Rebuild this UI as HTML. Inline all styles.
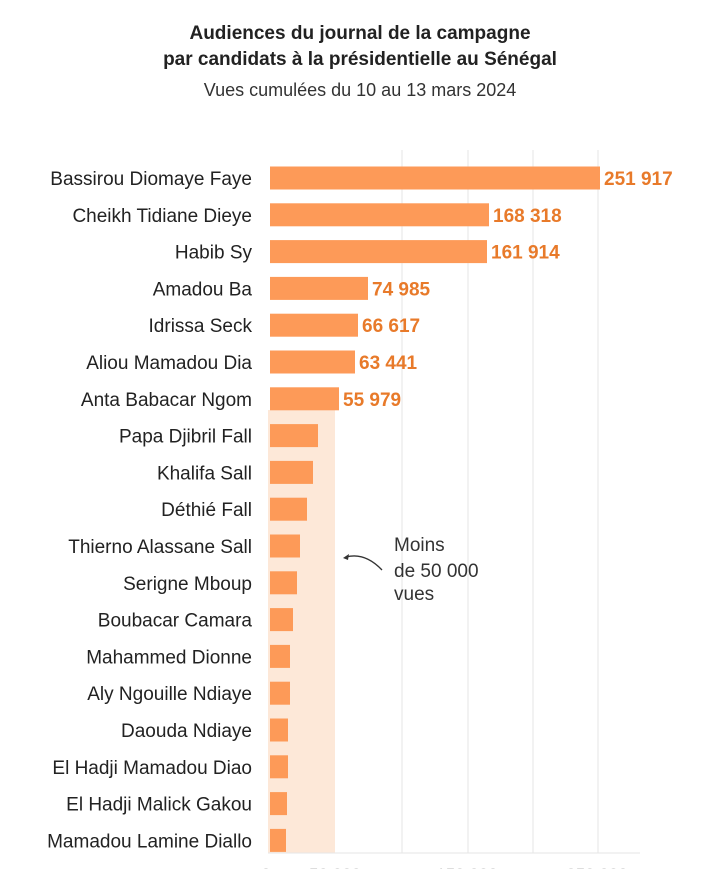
<!DOCTYPE html>
<html><head><meta charset="utf-8"><style>
body{margin:0;background:#fff;width:720px;height:869px;overflow:hidden;position:relative;font-family:"Liberation Sans Narrow","Liberation Sans",sans-serif;color:#222}
.t{position:absolute;left:0;width:720px;text-align:center}
</style></head><body>
<div class="t" style="top:21px;font-size:19px;font-weight:bold;line-height:26px">Audiences du journal de la campagne<br>par candidats à la présidentielle au Sénégal</div>
<div class="t" style="top:80px;font-size:18px;color:#333">Vues cumulées du 10 au 13 mars 2024</div>
<svg width="720" height="869" style="position:absolute;left:0;top:0" font-family="Liberation Sans Narrow, Liberation Sans, sans-serif">
<rect x="268" y="410" width="67" height="443" fill="#fde8d8"/>
<g stroke="#e6e6e6" stroke-width="1">
<line x1="402" y1="150" x2="402" y2="853"/><line x1="468" y1="150" x2="468" y2="853"/><line x1="533" y1="150" x2="533" y2="853"/><line x1="598" y1="150" x2="598" y2="853"/>
<line x1="268" y1="853" x2="640" y2="853"/>
</g>
<g id="bars"></g>
<g font-size="17" fill="#bbb" text-anchor="middle">
<text x="266" y="880">0</text><text x="335" y="880">50 000</text><text x="467" y="880">150 000</text><text x="597" y="880">250 000</text>
</g>
<g font-size="19" fill="#333"><text x="394" y="551">Moins</text><text x="394" y="577">de 50 000</text><text x="394" y="600">vues</text></g>
<path d="M382 570 Q365 552 346 557" fill="none" stroke="#333" stroke-width="1.3"/>
<path d="M343 558 l6 -4 l-1 6 z" fill="#333"/>
</svg>
<script>
var d=[["Bassirou Diomaye Faye",600,"251 917"],["Cheikh Tidiane Dieye",489,"168 318"],["Habib Sy",487,"161 914"],["Amadou Ba",368,"74 985"],["Idrissa Seck",358,"66 617"],["Aliou Mamadou Dia",355,"63 441"],["Anta Babacar Ngom",339,"55 979"],["Papa Djibril Fall",318],["Khalifa Sall",313],["Déthié Fall",307],["Thierno Alassane Sall",300],["Serigne Mboup",297],["Boubacar Camara",293],["Mahammed Dionne",290],["Aly Ngouille Ndiaye",290],["Daouda Ndiaye",288],["El Hadji Mamadou Diao",288],["El Hadji Malick Gakou",287],["Mamadou Lamine Diallo",286]];
var s="";d.forEach(function(r,i){var c=178+i*36.8;
s+='<rect x="270" y="'+(c-11.5)+'" width="'+(r[1]-270)+'" height="23" fill="#fd9a58"/>';
s+='<text x="252" y="'+(c+7)+'" font-size="19" fill="#222" text-anchor="end">'+r[0]+'</text>';
if(r[2])s+='<text x="'+(r[1]+4)+'" y="'+(c+7)+'" font-size="19" font-weight="bold" fill="#e87a2a">'+r[2]+'</text>';});
document.getElementById("bars").innerHTML=s;
</script>
</body></html>
